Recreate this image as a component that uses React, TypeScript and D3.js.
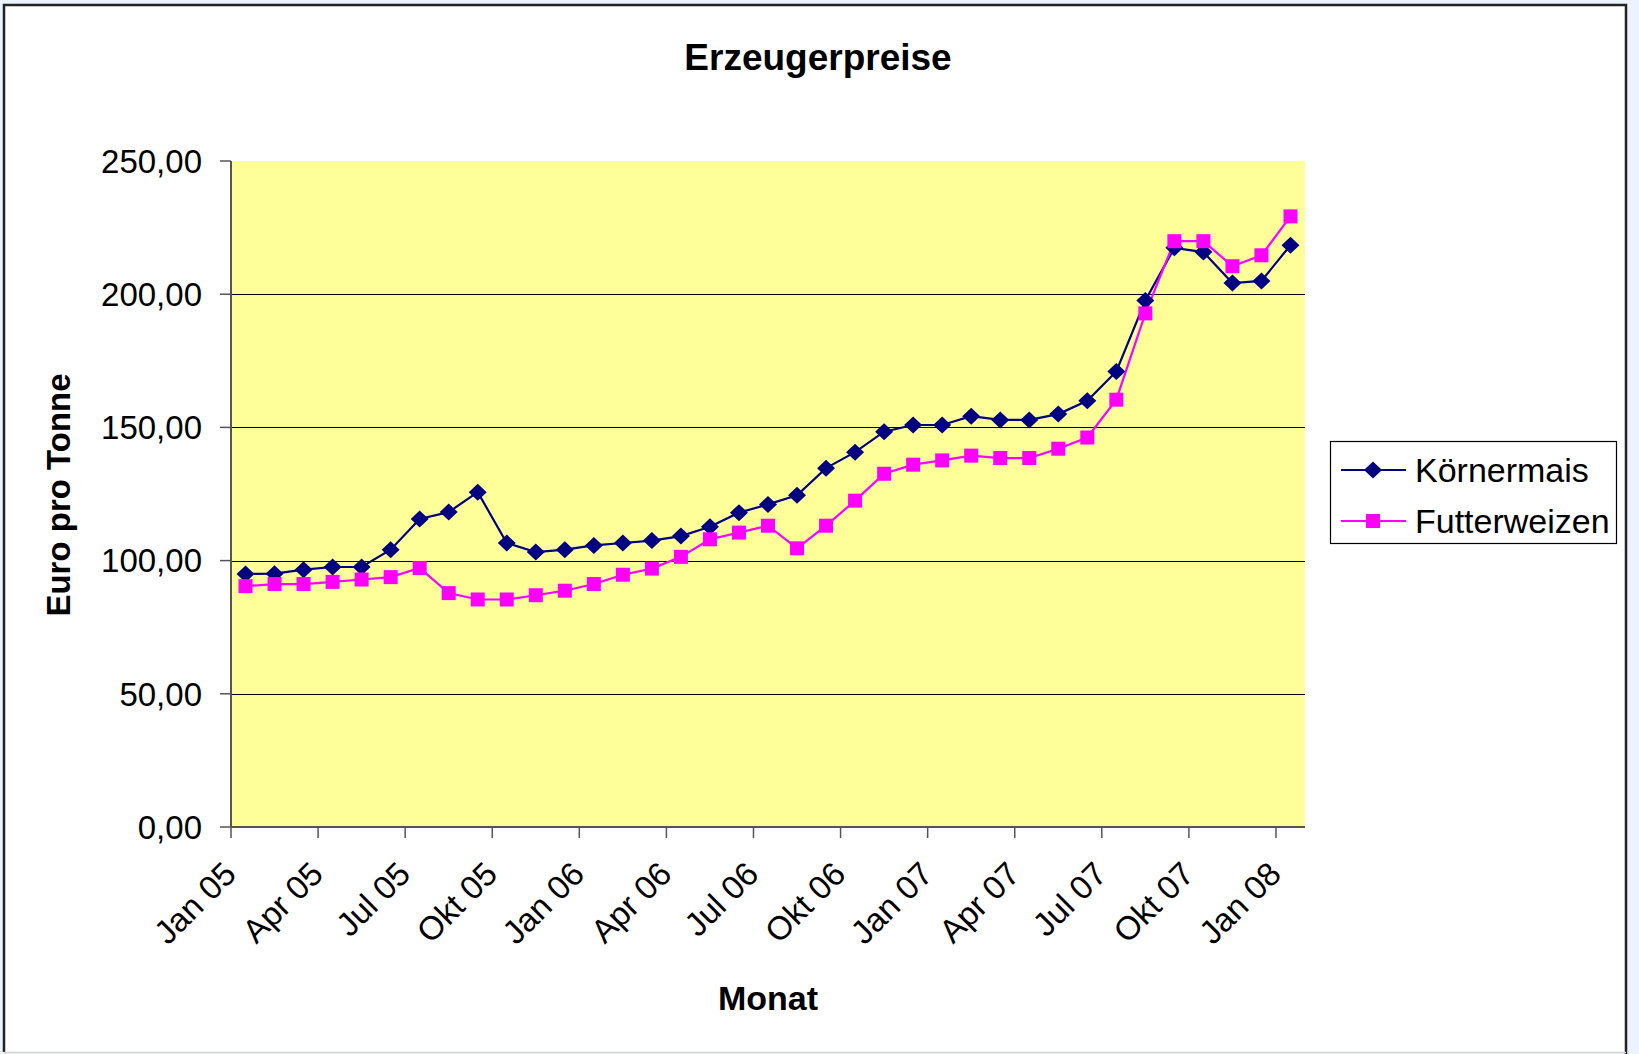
import React, { useEffect, useRef } from 'react'
import * as d3 from 'd3'

// monthly prices, Jan 05 .. Jan 08
const months = [
    "Jan 05", "Feb 05", "Mär 05", "Apr 05", "Mai 05", "Jun 05", "Jul 05", "Aug 05", "Sep 05", "Okt 05", "Nov 05", "Dez 05",
    "Jan 06", "Feb 06", "Mär 06", "Apr 06", "Mai 06", "Jun 06", "Jul 06", "Aug 06", "Sep 06", "Okt 06", "Nov 06", "Dez 06",
    "Jan 07", "Feb 07", "Mär 07", "Apr 07", "Mai 07", "Jun 07", "Jul 07", "Aug 07", "Sep 07", "Okt 07", "Nov 07", "Dez 07",
    "Jan 08"
]
const koernermais = [
    95.0, 95.1, 96.6, 97.6, 97.6, 104.1, 115.6, 118.2, 125.7, 106.6, 103.2, 104.1,
    105.7, 106.6, 107.5, 109.2, 112.7, 118.0, 121.1, 124.5, 134.7, 140.7, 148.4, 150.9,
    150.9, 154.2, 152.8, 152.8, 155.0, 160.0, 171.0, 197.6, 217.4, 215.8, 204.2, 205.0,
    218.4
]
const futterweizen = [
    90.4, 91.2, 91.2, 92.0, 92.9, 93.8, 97.2, 87.8, 85.4, 85.4, 87.0, 88.7,
    91.2, 94.7, 97.0, 101.4, 108.0, 110.5, 113.1, 104.6, 113.1, 122.5, 132.6, 136.0,
    137.6, 139.4, 138.5, 138.5, 142.0, 146.2, 160.4, 192.8, 219.9, 219.9, 210.5, 214.6,
    229.2
]
const yTicks = [0, 50, 100, 150, 200, 250]
const seriesNames = ["Körnermais", "Futterweizen"]

export default function App() {
    const ref = useRef<SVGSVGElement | null>(null)

    const width = 1639
    const height = 1054
    const plot = { left: 231, right: 1305, top: 161, bottom: 827 }
    const font = "'Liberation Sans', Arial, sans-serif"

    function draw() {
        var svg = d3.select(ref.current)
        svg.selectAll("*").remove()

        // background + chart frame
        svg.append("rect").attr("width", width).attr("height", height).attr("fill", "#eaf3fe")
        svg.append("rect").attr("x", 4).attr("y", 5).attr("width", 1622).attr("height", 1047)
            .attr("fill", "#fff")
        svg.append("path").attr("d", "M4,1052V5H1626V1054").attr("fill", "none")
            .attr("stroke", "#222").attr("stroke-width", 2.5)
        svg.append("line").attr("x1", 4).attr("x2", 1626).attr("y1", 1052.5).attr("y2", 1052.5)
            .attr("stroke", "#d4d4d4").attr("stroke-width", 1.5)

        var x = d3.scaleBand().domain(months).range([plot.left, plot.right]).padding(0)
        var y = d3.scaleLinear().domain([0, 250]).range([plot.bottom, plot.top])
        var cx = (i: number) => (x(months[i]) as number) + x.bandwidth() / 2

        svg.append("rect")
            .attr("x", plot.left).attr("y", plot.top)
            .attr("width", plot.right - plot.left).attr("height", plot.bottom - plot.top)
            .attr("fill", "#ffff99")

        // gridlines
        svg.append("g").selectAll("line")
            .data(yTicks.filter(t => t > 0 && t < 250))
            .enter().append("line")
            .attr("x1", plot.left).attr("x2", plot.right)
            .attr("y1", d => Math.round(y(d)) + 0.5).attr("y2", d => Math.round(y(d)) + 0.5)
            .attr("stroke", "#000").attr("stroke-width", 1.2)

        // y axis
        var ya = svg.append("g")
        ya.append("line").attr("x1", plot.left).attr("x2", plot.left)
            .attr("y1", plot.top).attr("y2", plot.bottom)
            .attr("stroke", "#555").attr("stroke-width", 2)
        ya.selectAll("line.tick").data(yTicks).enter().append("line").attr("class", "tick")
            .attr("x1", plot.left - 11).attr("x2", plot.left)
            .attr("y1", d => y(d)).attr("y2", d => y(d))
            .attr("stroke", "#555").attr("stroke-width", 1.5)
        ya.selectAll("text").data(yTicks).enter().append("text")
            .attr("x", 202).attr("y", d => y(d)).attr("dy", "0.36em")
            .attr("text-anchor", "end")
            .style("font-family", font).style("font-size", "33px")
            .text(d => d3.format(".2f")(d).replace(".", ","))

        // x axis
        var xa = svg.append("g")
        xa.append("line").attr("x1", plot.left).attr("x2", plot.right)
            .attr("y1", plot.bottom).attr("y2", plot.bottom)
            .attr("stroke", "#555").attr("stroke-width", 2)
        var labelled = months.filter((m, i) => i % 3 === 0)
        xa.selectAll("line.tick").data(labelled).enter().append("line").attr("class", "tick")
            .attr("x1", d => x(d) as number).attr("x2", d => x(d) as number)
            .attr("y1", plot.bottom).attr("y2", plot.bottom + 11)
            .attr("stroke", "#555").attr("stroke-width", 1.5)
        xa.selectAll("text").data(labelled).enter().append("text")
            .attr("transform", d => "translate(" + ((x(d) as number) + 7) + "," + 876 + ") rotate(-45)")
            .attr("text-anchor", "end")
            .style("font-family", font).style("font-size", "33px")
            .text(d => d)

        // series
        var colors = ["#000080", "#ff00ff"]
        var all = [koernermais, futterweizen]
        var line = d3.line<number>().x((d, i) => cx(i)).y(d => y(d))
        var diamond = (s: number) => "M0," + (-s) + "L" + (s + 0.5) + ",0L0," + s + "L" + (-s - 0.5) + ",0Z"

        all.forEach((vals, k) => {
            svg.append("path").datum(vals)
                .attr("d", line)
                .attr("fill", "none").attr("stroke", colors[k]).attr("stroke-width", 2.2)
        })
        all.forEach((vals, k) => {
            var g = svg.append("g")
            if (k === 0) {
                g.selectAll("path").data(vals).enter().append("path")
                    .attr("d", diamond(8.5))
                    .attr("transform", (d, i) => "translate(" + cx(i) + "," + y(d) + ")")
                    .attr("fill", colors[k])
            } else {
                g.selectAll("rect").data(vals).enter().append("rect")
                    .attr("x", (d, i) => cx(i) - 7).attr("y", d => y(d) - 7)
                    .attr("width", 14).attr("height", 14)
                    .attr("fill", colors[k])
            }
        })

        // titles
        svg.append("text").attr("x", 818).attr("y", 70).attr("text-anchor", "middle")
            .style("font-family", font).style("font-size", "37px").style("font-weight", "bold")
            .text("Erzeugerpreise")
        svg.append("text").attr("transform", "translate(70,495) rotate(-90)").attr("text-anchor", "middle")
            .style("font-family", font).style("font-size", "33px").style("font-weight", "bold")
            .text("Euro pro Tonne")
        svg.append("text").attr("x", 768).attr("y", 1010).attr("text-anchor", "middle")
            .style("font-family", font).style("font-size", "34px").style("font-weight", "bold")
            .text("Monat")

        // legend
        var lg = svg.append("g")
        lg.append("rect").attr("x", 1330.5).attr("y", 441.5).attr("width", 286).attr("height", 102)
            .attr("fill", "#fff").attr("stroke", "#000").attr("stroke-width", 1.2)
        seriesNames.forEach((name, k) => {
            var ly = 470 + k * 51
            lg.append("line").attr("x1", 1341).attr("x2", 1406).attr("y1", ly).attr("y2", ly)
                .attr("stroke", colors[k]).attr("stroke-width", 2.2)
            if (k === 0) {
                lg.append("path").attr("d", diamond(8.5)).attr("transform", "translate(1373," + ly + ")")
                    .attr("fill", colors[k])
            } else {
                lg.append("rect").attr("x", 1373 - 7).attr("y", ly - 7).attr("width", 14).attr("height", 14)
                    .attr("fill", colors[k])
            }
            lg.append("text").attr("x", 1415).attr("y", ly).attr("dy", "0.36em")
                .style("font-family", font).style("font-size", "34px")
                .text(name)
        })
    }

    useEffect(() => {
        draw()
    }, [])

    return (
        <svg ref={ref} width={width} height={height}
            style={{ position: 'absolute', left: 0, top: 0, display: 'block' }} />
    )
}
